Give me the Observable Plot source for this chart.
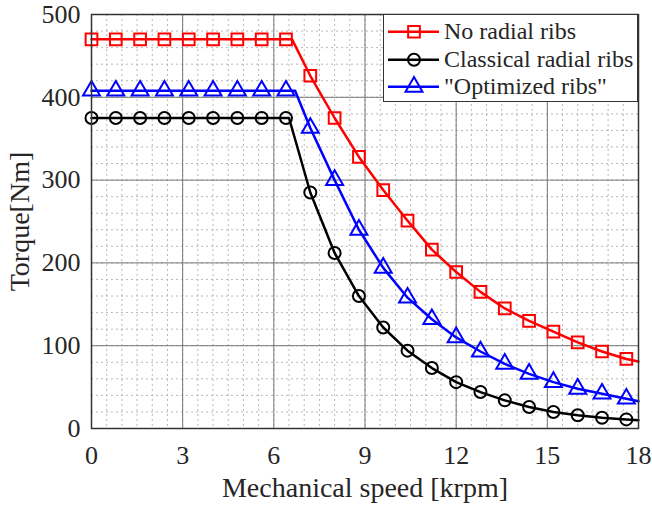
<!DOCTYPE html>
<html>
<head>
<meta charset="utf-8">
<script src="https://cdn.jsdelivr.net/npm/d3@7"></script>
<script src="https://cdn.jsdelivr.net/npm/@observablehq/plot@0.6"></script>
<style>
  html, body { margin: 0; padding: 0; background: white; }
  #wrap { position: relative; width: 652px; height: 508px; font-family: "Liberation Serif", "Times New Roman", serif; }
  #wrap svg text { font-family: "Liberation Serif", "Times New Roman", serif; }
  #legend { position: absolute; left: 383px; top: 14px; width: 255px; height: 88px; box-sizing: border-box;
            border: 1.5px solid #333; background: white; padding-top: 3px; }
  .row { display: flex; align-items: center; height: 27.5px; font-size: 24px; color: #262626; white-space: nowrap; }
  .row svg { flex: none; margin-right: 3px; }
</style>
</head>
<body>
<div id="wrap"></div>
<script>
// ---- data ----
const speeds = [0, 0.8, 1.6, 2.4, 3.2, 4.0, 4.8, 5.6, 6.4, 7.2, 8.0, 8.8, 9.6, 10.4, 11.2, 12.0, 12.8, 13.6, 14.4, 15.2, 16.0, 16.8, 17.6];
const noRibs    = [470, 470, 470, 470, 470, 470, 470, 470, 470, 426, 375, 328, 288, 251, 216, 189, 165, 145, 130, 117, 104, 93, 84];
const classical = [375, 375, 375, 375, 375, 375, 375, 375, 375, 285, 212, 160, 122, 94, 73, 56, 44, 34, 26, 20, 16, 13, 11];
const optimized = [408, 408, 408, 408, 408, 408, 408, 408, 408, 363, 300, 240, 194, 158, 132, 110, 93, 78, 66, 56, 48, 42, 36];
// corner (base speed) and end-of-range points of each curve: [speed, torque]
const noRibsExtra    = [[6.6, 470], [18, 81]];
const classicalExtra = [[6.5, 375], [18, 10]];
const optimizedExtra = [[6.7, 408], [18, 33]];

const seriesNames = ["No radial ribs", "Classical radial ribs", "\"Optimized ribs\""];
const seriesColors = ["#ff0000", "#000000", "#0000ff"];
const seriesSymbols = ["square", "circle", "triangle"];
const seriesR = [6.6, 6, 6.3];

const xTicks = [0, 3, 6, 9, 12, 15, 18];
const yTicks = [0, 100, 200, 300, 400, 500];
const xMinor = d3.range(0, 18.001, 0.5);
const yMinor = d3.range(0, 500.001, 20);

const xLabel = "Mechanical speed [krpm]";
const yLabel = "Torque[Nm]";

// ---- build tables ----
const valueSets = [noRibs, classical, optimized];
const extraSets = [noRibsExtra, classicalExtra, optimizedExtra];
const points = [];
const linePts = [];
seriesNames.forEach((name, i) => {
  speeds.forEach((s, j) => {
    points.push({series: name, speed: s, torque: valueSets[i][j]});
    linePts.push({series: name, speed: s, torque: valueSets[i][j]});
  });
  extraSets[i].forEach(([s, t]) => linePts.push({series: name, speed: s, torque: t}));
});
linePts.sort((a, b) => a.speed - b.speed);

const serif = "Liberation Serif";
const marks = [
  Plot.gridX(xMinor, {stroke: "#b8b8b8", strokeOpacity: 1, strokeWidth: 1, strokeDasharray: "2,3"}),
  Plot.gridY(yMinor, {stroke: "#b8b8b8", strokeOpacity: 1, strokeWidth: 1, strokeDasharray: "2,3"}),
  Plot.gridX(xTicks, {stroke: "#777", strokeOpacity: 1, strokeWidth: 1}),
  Plot.gridY(yTicks, {stroke: "#777", strokeOpacity: 1, strokeWidth: 1}),
  Plot.axisX(xTicks, {tickSize: 0, tickPadding: 17, label: null, fontSize: 26, fontFamily: serif, fill: "#262626"}),
  Plot.axisY(yTicks, {tickSize: 0, tickPadding: 11, label: null, fontSize: 26, fontFamily: serif, fill: "#262626"}),
  Plot.text([xLabel], {frameAnchor: "bottom", lineAnchor: "middle", textAnchor: "middle", dy: 60, fontSize: 28, fontFamily: serif, fill: "#262626"}),
  Plot.text([yLabel], {frameAnchor: "left", lineAnchor: "middle", textAnchor: "middle", dx: -71, rotate: -90, fontSize: 28, fontFamily: serif, fill: "#262626"})
];
seriesNames.forEach((name, i) => {
  const L = linePts.filter(d => d.series === name);
  const P = points.filter(d => d.series === name);
  marks.push(Plot.line(L, {x: "speed", y: "torque", stroke: seriesColors[i], strokeWidth: 2.5}));
  marks.push(Plot.dot(P, {x: "speed", y: "torque", stroke: seriesColors[i], symbol: () => seriesSymbols[i], r: seriesR[i], strokeWidth: 2, fill: "none"}));
});
marks.push(Plot.frame({stroke: "#333", strokeWidth: 1.5}));

const chart = Plot.plot({
  width: 652, height: 508,
  marginLeft: 91, marginRight: 14, marginTop: 14, marginBottom: 80,
  x: {domain: [0, 18]},
  y: {domain: [0, 500]},
  symbol: {type: "identity"},
  style: {fontFamily: serif, fontSize: "24px", background: "white", color: "#262626"},
  marks
});
const wrap = document.getElementById("wrap");
wrap.appendChild(chart);

// ---- legend ----
const legend = document.createElement("div");
legend.id = "legend";
seriesNames.forEach((name, i) => {
  const row = document.createElement("div");
  row.className = "row";
  const svg = d3.create("svg").attr("width", 57).attr("height", 27.5);
  svg.append("line").attr("x1", 4).attr("x2", 55).attr("y1", 13.75).attr("y2", 13.75)
     .attr("stroke", seriesColors[i]).attr("stroke-width", 2.5);
  const sym = {square: d3.symbolSquare, circle: d3.symbolCircle, triangle: d3.symbolTriangle}[seriesSymbols[i]];
  svg.append("path").attr("d", d3.symbol(sym, Math.PI * seriesR[i] * seriesR[i])())
     .attr("transform", "translate(30,13.75)")
     .attr("fill", "none").attr("stroke", seriesColors[i]).attr("stroke-width", 2);
  row.appendChild(svg.node());
  const span = document.createElement("span");
  span.textContent = name;
  row.appendChild(span);
  legend.appendChild(row);
});
wrap.appendChild(legend);
</script>
</body>
</html>
